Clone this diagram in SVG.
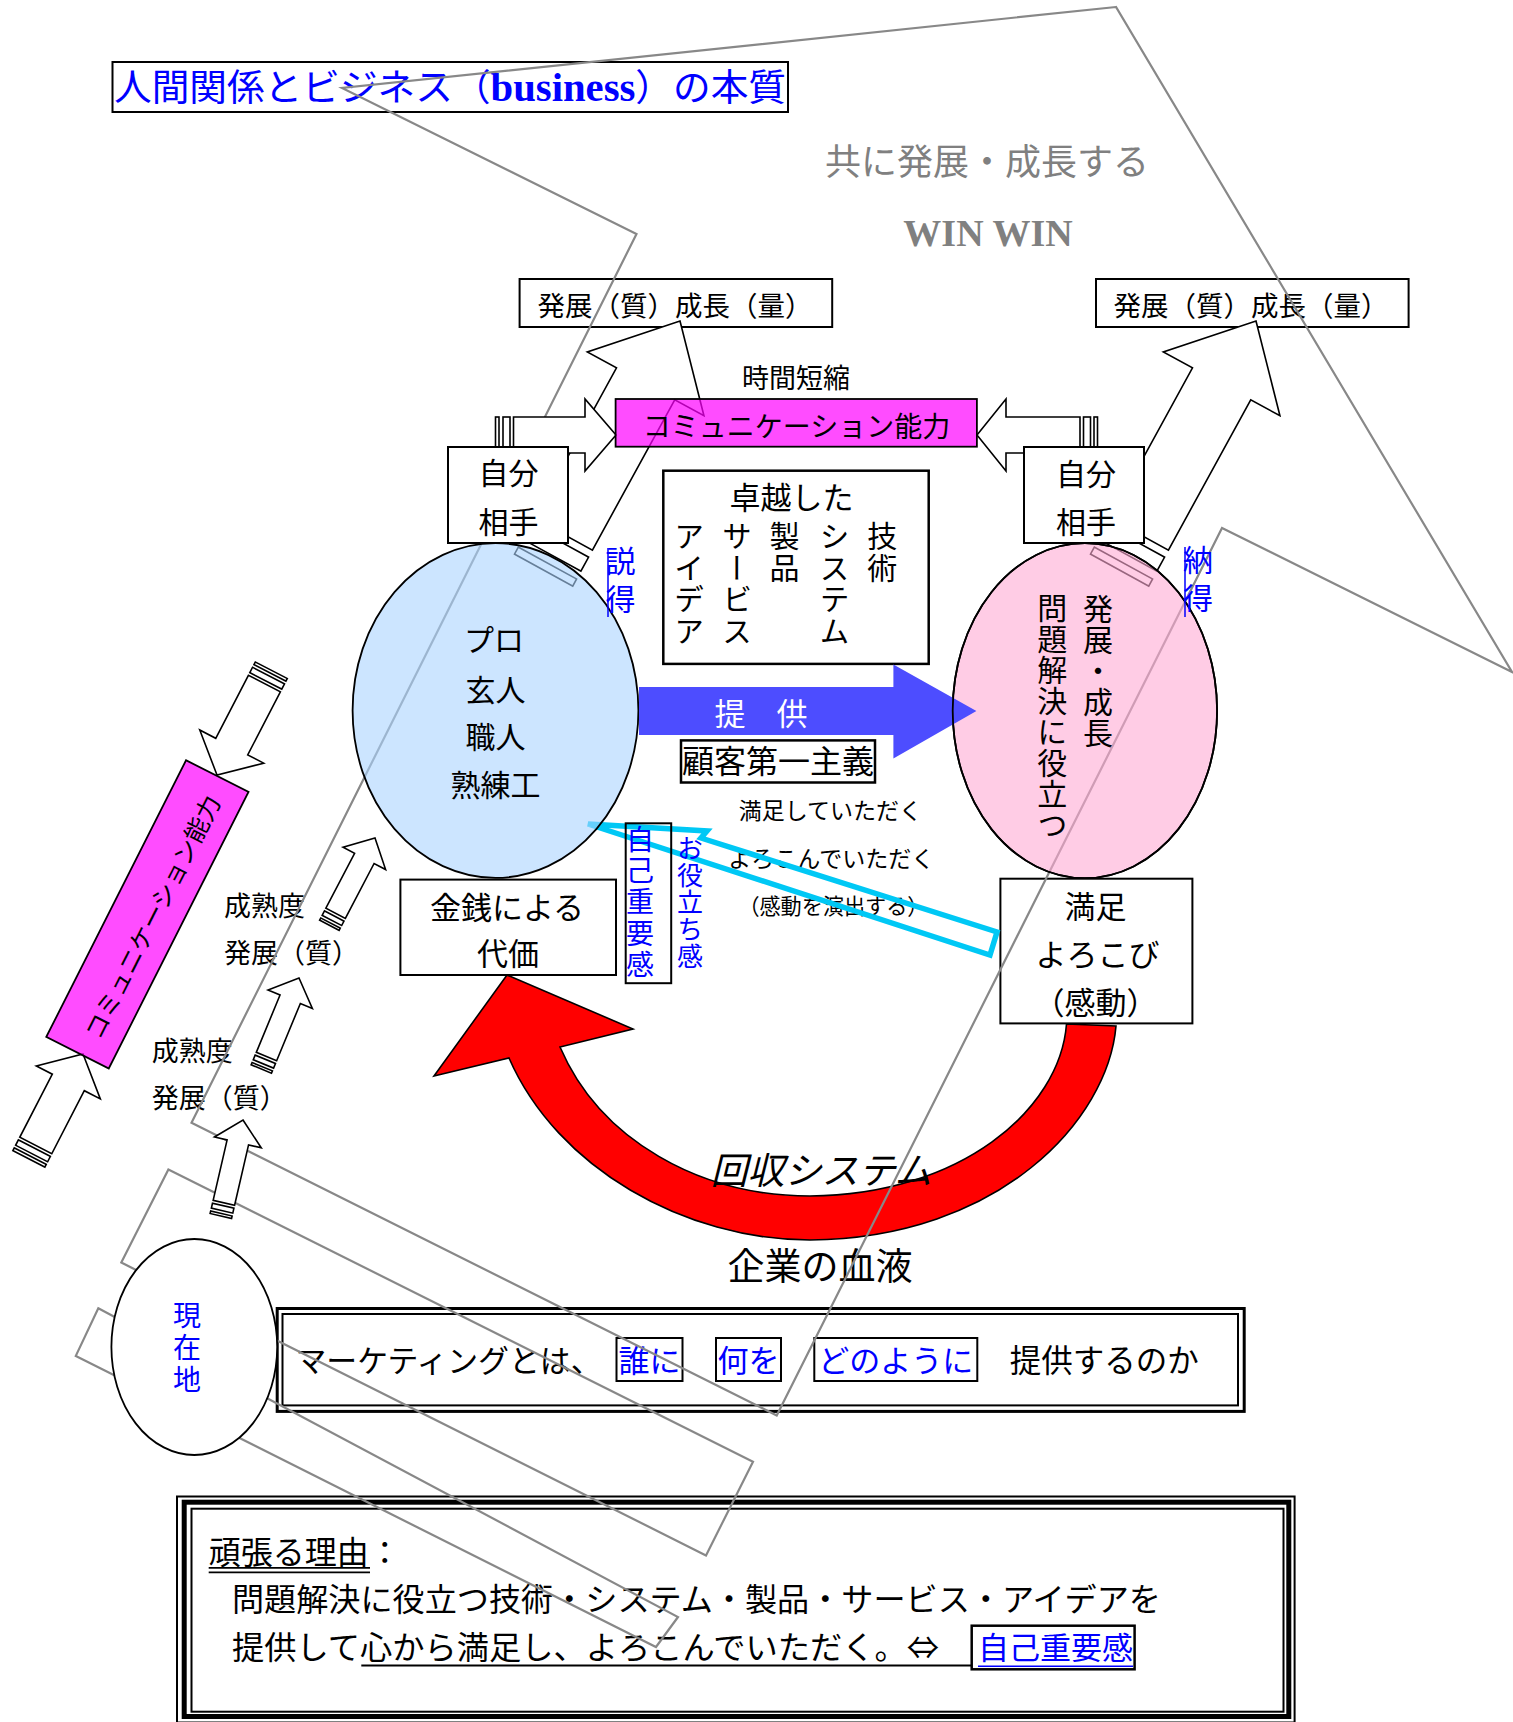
<svg xmlns="http://www.w3.org/2000/svg" width="1513" height="1722" viewBox="0 0 1513 1722">
<style>
text{font-family:"Noto Sans CJK JP","Noto Sans",sans-serif;fill:#000}
.s{font-family:"Liberation Serif","Noto Sans CJK JP",serif}
.bl{fill:#0000ff}
.gr{fill:#808080}
.wh{fill:#fff}
.m{text-anchor:middle}
.v{writing-mode:vertical-rl}
.box{fill:#fff;stroke:#000;stroke-width:2}
.ar{fill:#fff;stroke:#000;stroke-width:1.6}
.gl{fill:none;stroke:#888;stroke-width:2.2}
.ln{stroke:#000;stroke-width:1.8;fill:none}
</style>
<defs>
 <g id="bigArrow">
  <path class="ar" d="M0,0 L66.5,71.6 L33.2,71.6 L33.2,243 L-33.2,243 L-33.2,71.6 L-66.5,71.6 Z"/>
  <rect class="ar" x="-33.2" y="251" width="66.4" height="16"/>
  <rect class="ar" x="-33.2" y="276" width="66.4" height="8"/>
 </g>
 <g id="midArrow">
  <path class="ar" d="M0,0 L36,32 L18,32 L18,103 L-18,103 L-18,32 L-36,32 Z"/>
  <rect class="ar" x="-18" y="106" width="36" height="6"/>
  <rect class="ar" x="-18" y="115" width="36" height="3"/>
 </g>
 <g id="smallArrow">
  <path class="ar" d="M0,0 L24,23 L11,23 L11,85 L-11,85 L-11,23 L-24,23 Z"/>
  <rect class="ar" x="-11" y="88" width="22" height="5"/>
  <rect class="ar" x="-11" y="96" width="22" height="2.5"/>
 </g>
</defs>

<g id="title">
 <rect x="112.5" y="62" width="675.5" height="50" fill="#fff" stroke="#000" stroke-width="2"/>
 <text x="114" y="101" font-size="37" class="s bl" textLength="672" lengthAdjust="spacingAndGlyphs">人間関係とビジネス（<tspan font-weight="bold" font-size="40">business</tspan>）の本質</text>
</g>
<g id="winwin">
 <text x="987" y="175" font-size="36" class="gr m">共に発展・成長する</text>
 <text x="988" y="246" font-size="38" class="s gr m" font-weight="bold">WIN WIN</text>
</g>
<g id="growth-left">
 <rect class="box" x="519.6" y="279" width="312.6" height="48"/>
 <text x="675" y="315.7" font-size="27.5" class="m">発展（質）成長（量）</text>
</g>
<g id="growth-right">
 <rect class="box" x="1096" y="279" width="312.6" height="48"/>
 <text x="1251" y="315.7" font-size="27.5" class="m">発展（質）成長（量）</text>
</g>

<g id="recovery">
 <path d="M1116,1026 C1108,1120 1000,1238 810,1240 C685,1240 557,1168 509,1058 L434,1076 L507,975 L633,1029 L560,1047 C600,1140 700,1196 810,1196 C960,1195 1060,1110 1066.5,1024 Z" fill="#ff0000" stroke="#000" stroke-width="1.6"/>
 <text x="821" y="1184" font-size="37" class="m" font-style="italic">回収システム</text>
 <text x="820" y="1280" font-size="37" class="m">企業の血液</text>
</g>
<g id="money">
 <rect class="box" x="400.4" y="879.6" width="215.6" height="95.4"/>
 <text x="507" y="919" font-size="31" class="m">金銭による</text>
 <text x="508" y="965" font-size="31" class="m">代価</text>
</g>
<g id="satisfaction">
 <rect class="box" x="1000.4" y="878.7" width="192" height="144.7"/>
 <text x="1095.5" y="918" font-size="31" class="m">満足</text>
 <text x="1097.5" y="965.5" font-size="31" class="m">よろこび</text>
 <text x="1095.5" y="1013.5" font-size="31" class="m">（感動）</text>
</g>
<g id="excellent">
 <rect x="663.3" y="470.7" width="265.4" height="193.2" fill="#fff" stroke="#000" stroke-width="2.5"/>
 <text x="791.5" y="508.5" font-size="31" class="m">卓越した</text>
 <text x="689" y="521" font-size="30" class="v" letter-spacing="1.5">アイデア</text>
 <text x="737" y="521" font-size="30" class="v" letter-spacing="1.5">サービス</text>
 <text x="784.6" y="521" font-size="30" class="v" letter-spacing="1.5">製品</text>
 <text x="834.4" y="521" font-size="30" class="v" letter-spacing="1.5">システム</text>
 <text x="882.2" y="521" font-size="30" class="v" letter-spacing="1.5">技術</text>
</g>
<g id="customer-first">
 <rect x="681" y="740.4" width="194" height="42.1" fill="#fff" stroke="#000" stroke-width="2.5"/>
 <text x="778" y="773" font-size="32" class="m">顧客第一主義</text>
</g>
<g id="delight-notes">
 <text x="830.3" y="818.5" font-size="23" class="m">満足していただく</text>
 <text x="831.3" y="866.8" font-size="23" class="m">よろこんでいただく</text>
 <text x="833.4" y="913.6" font-size="22" class="m" textLength="190" lengthAdjust="spacingAndGlyphs">（感動を演出する）</text>
</g>
<g id="return-arrow">
 <path d="M588,824 L707,831 L701,838 L997,932 L990,955 Z" fill="none" stroke="#00c8f5" stroke-width="5.5"/>
</g>
<g id="self-importance">
 <rect x="625.7" y="823.3" width="45.5" height="159.9" fill="none" stroke="#000" stroke-width="2"/>
 <text x="640" y="825" font-size="28" class="v bl" letter-spacing="3.3">自己重要感</text>
 <text x="690" y="835" font-size="26" class="v bl" letter-spacing="1">お役立ち感</text>
</g>
<g id="maturity-labels">
 <text x="224" y="916" font-size="27">成熟度</text>
 <text x="224" y="962.5" font-size="27">発展（質）</text>
 <text x="151.7" y="1060.5" font-size="27">成熟度</text>
 <text x="151.7" y="1108" font-size="27">発展（質）</text>
</g>
<g id="marketing">
 <rect x="277.2" y="1308.5" width="967" height="102.9" fill="#fff" stroke="#000" stroke-width="3"/>
 <rect x="282.5" y="1314" width="955.5" height="91.4" fill="none" stroke="#000" stroke-width="2"/>
 <text x="295.5" y="1371.5" font-size="31" textLength="306" lengthAdjust="spacingAndGlyphs">マーケティングとは、</text>
 <rect x="616.5" y="1338" width="66" height="43" fill="none" stroke="#000" stroke-width="2"/>
 <text x="649.5" y="1371.5" font-size="31" class="m bl">誰に</text>
 <rect x="716" y="1338" width="65" height="43" fill="none" stroke="#000" stroke-width="2"/>
 <text x="748.5" y="1371.5" font-size="31" class="m bl">何を</text>
 <rect x="814.3" y="1338" width="163" height="43" fill="none" stroke="#000" stroke-width="2"/>
 <text x="895.7" y="1371.5" font-size="31" class="m bl">どのように</text>
 <text x="1009.8" y="1371.5" font-size="31.5">提供するのか</text>
</g>
<g id="reason">
 <rect x="177" y="1496.5" width="1117.6" height="226" fill="#fff" stroke="#000" stroke-width="2"/>
 <rect x="184.2" y="1502.2" width="1104.6" height="214.3" fill="none" stroke="#000" stroke-width="5"/>
 <rect x="191.5" y="1508.7" width="1092" height="203" fill="none" stroke="#000" stroke-width="2"/>
 <text x="208.7" y="1564.3" font-size="32">頑張る理由：</text>
 <line class="ln" x1="208.7" y1="1567.8" x2="370" y2="1567.8"/>
 <line class="ln" x1="208.7" y1="1572.3" x2="370" y2="1572.3"/>
 <text x="232" y="1610.8" font-size="32" textLength="929" lengthAdjust="spacingAndGlyphs">問題解決に役立つ技術・システム・製品・サービス・アイデアを</text>
 <text x="232" y="1658.5" font-size="32" textLength="707" lengthAdjust="spacingAndGlyphs">提供して心から満足し、よろこんでいただく。⇔</text>
 <line x1="361.3" y1="1665.5" x2="971.7" y2="1665.5" stroke="#000" stroke-width="2"/>
 <rect x="971.7" y="1625.7" width="162.9" height="43.6" fill="none" stroke="#000" stroke-width="2.5"/>
 <text x="978" y="1658.5" font-size="31" class="bl">自己重要感</text>
 <line x1="978" y1="1666.3" x2="1133" y2="1666.3" stroke="#0000ff" stroke-width="1.6"/>
</g>

<g id="ghost-lines">
 <path class="gl" d="M1116,7 L342,88 L636.5,234 L191.5,1122.7 L776.7,1415.4 L1222,528 L1512,672 Z"/>
 <path class="gl" d="M168.4,1169.4 L753,1461.8 L706,1555.4 L121.3,1262.6 Z"/>
 <path class="gl" d="M98.3,1308.2 L678,1617 L656,1647 L75.8,1355.9 Z"/>
</g>

<g id="current-position">
 <ellipse cx="194.3" cy="1347" rx="82.9" ry="108" fill="#fff" stroke="#000" stroke-width="1.8"/>
 <text x="187" y="1301" font-size="28" class="v bl" letter-spacing="4">現在地</text>
</g>

<g id="connectors">
 <use href="#smallArrow" transform="translate(375,838) rotate(27.6)"/>
 <use href="#smallArrow" transform="translate(299,978) rotate(22.5)"/>
 <use href="#smallArrow" transform="translate(243,1120) rotate(13)"/>
 <use href="#midArrow" transform="translate(217,775) rotate(207.4)"/>
 <use href="#midArrow" transform="translate(83,1054) rotate(27.3)"/>
 <use href="#bigArrow" transform="translate(680,321) rotate(28.7)"/>
 <use href="#bigArrow" transform="translate(1256,321) rotate(28.7)"/>
 <g id="arrow-self-left">
  <path class="ar" d="M513.5,417 L585,417 L585,399 L616,435 L585,471 L585,453 L513.5,453 Z"/>
  <rect class="ar" x="495.5" y="417" width="3.5" height="36"/>
  <rect class="ar" x="503" y="417" width="7" height="36"/>
 </g>
 <g id="arrow-self-right">
  <path class="ar" d="M1080,417 L1006,417 L1006,399 L977,435 L1006,471 L1006,453 L1080,453 Z"/>
  <rect class="ar" x="1083.5" y="417" width="7" height="36"/>
  <rect class="ar" x="1094" y="417" width="3.5" height="36"/>
 </g>
</g>

<g id="comm-left" transform="translate(147.4,914.4) rotate(-63.2)">
 <rect x="-155" y="-35" width="310" height="70" fill="#ff00ff" fill-opacity="0.7" stroke="#000" stroke-width="1.8"/>
 <text x="0" y="15" font-size="24.5" class="m">コミュニケーション能力</text>
</g>

<g id="self-left">
 <rect class="box" x="448" y="447" width="120" height="96"/>
 <text x="508.5" y="484" font-size="30" class="m">自分</text>
 <text x="508.5" y="532.5" font-size="30" class="m">相手</text>
</g>
<g id="self-right">
 <rect class="box" x="1024" y="447" width="120" height="96"/>
 <text x="1086" y="485" font-size="30" class="m">自分</text>
 <text x="1086" y="533" font-size="30" class="m">相手</text>
</g>
<g id="comm-top">
 <rect x="615.6" y="399" width="361.3" height="47.7" fill="#ff00ff" fill-opacity="0.7" stroke="#000" stroke-width="1.8"/>
 <text x="796.6" y="437" font-size="28" class="m">コミュニケーション能力</text>
 <text x="796" y="387.5" font-size="27" class="m">時間短縮</text>
</g>

<g id="pro">
 <ellipse cx="495.5" cy="710.5" rx="142.9" ry="167.4" fill="rgb(170,212,255)" fill-opacity="0.6" stroke="#000" stroke-width="1.8"/>
 <text x="494" y="650.5" font-size="30" class="m">プロ</text>
 <text x="495.5" y="700.5" font-size="30" class="m">玄人</text>
 <text x="495.5" y="748" font-size="30" class="m">職人</text>
 <text x="495.5" y="796" font-size="30" class="m">熟練工</text>
</g>
<g id="customer">
 <ellipse cx="1084.9" cy="710.7" rx="132.2" ry="167.5" fill="rgb(255,170,212)" fill-opacity="0.6" stroke="#000" stroke-width="1.8"/>
</g>
<g id="provide">
 <path d="M639,687 L893.4,687 L893.4,664.6 L976.4,711 L893.4,758.6 L893.4,735 L639,735 Z" fill="#4d4dff"/>
 <ellipse cx="1084.9" cy="710.7" rx="132.2" ry="167.5" fill="none" stroke="#000" stroke-width="1.8"/>
 <text x="761" y="725" font-size="31" class="m wh">提　供</text>
</g>
<g id="customer-text">
 <text x="1098" y="594" font-size="30" class="v" letter-spacing="1">発展・成長</text>
 <text x="1052.3" y="593" font-size="30" class="v" letter-spacing="1">問題解決に役立つ</text>
</g>
<g id="persuade">
 <text x="620.5" y="546" font-size="30" class="v bl" letter-spacing="8">説得</text>
 <line x1="608" y1="548" x2="608" y2="617" stroke="#0000ff" stroke-width="1.5"/>
</g>
<g id="consent">
 <text x="1198" y="545" font-size="30" class="v bl" letter-spacing="8">納得</text>
 <line x1="1185" y1="547" x2="1185" y2="617" stroke="#0000ff" stroke-width="1.5"/>
</g>
</svg>
